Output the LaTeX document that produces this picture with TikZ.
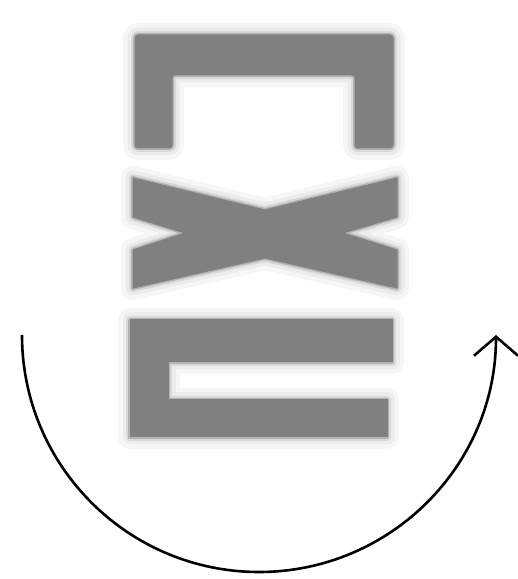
\documentclass[tikz,border=0pt]{standalone}
\usetikzlibrary{arrows.meta}
\definecolor{glyphgray}{RGB}{128,128,128}
\begin{document}
\begin{tikzpicture}[
  x=1pt, y=1pt,
  glyph/.style={fill=glyphgray, draw=glyphgray, line width=1pt, line join=round,
    preaction={draw=glyphgray!7, line width=24pt, line join=round},
    preaction={draw=glyphgray!15, line width=15pt, line join=round},
    preaction={draw=glyphgray!30, line width=8pt, line join=round},
    preaction={draw=glyphgray!60, line width=4pt, line join=round}},
  turn/.style={line width=2.6pt, -{Straight Barb[length=19pt, width=44pt, line width=2.6pt]}}
]
\useasboundingbox (0,0) rectangle (518,579);
% top bracket
\path[glyph, rounded corners=3pt] (135,431) -- (135,544) -- (393,544) -- (393,431) -- (355,431)
  -- (355,504) -- (172,504) -- (172,431) -- cycle;
% middle cross
\path[glyph] (133,401) -- (265,369) -- (397,401) -- (397,362) -- (343,346) -- (397,329)
  -- (397,291) -- (265,321) -- (133,291) -- (133,329) -- (185,346) -- (133,362) -- cycle;
% bottom bracket
\path[glyph] (130,259) -- (392,259) -- (392,217) -- (168,217) -- (168,179) -- (387,179)
  -- (387,142) -- (130,142) -- cycle;
% rotation arrow
\coordinate (start) at (22,244);
\draw[turn] (start) arc[start angle=180, end angle=360, radius=237];
\end{tikzpicture}
\end{document}
